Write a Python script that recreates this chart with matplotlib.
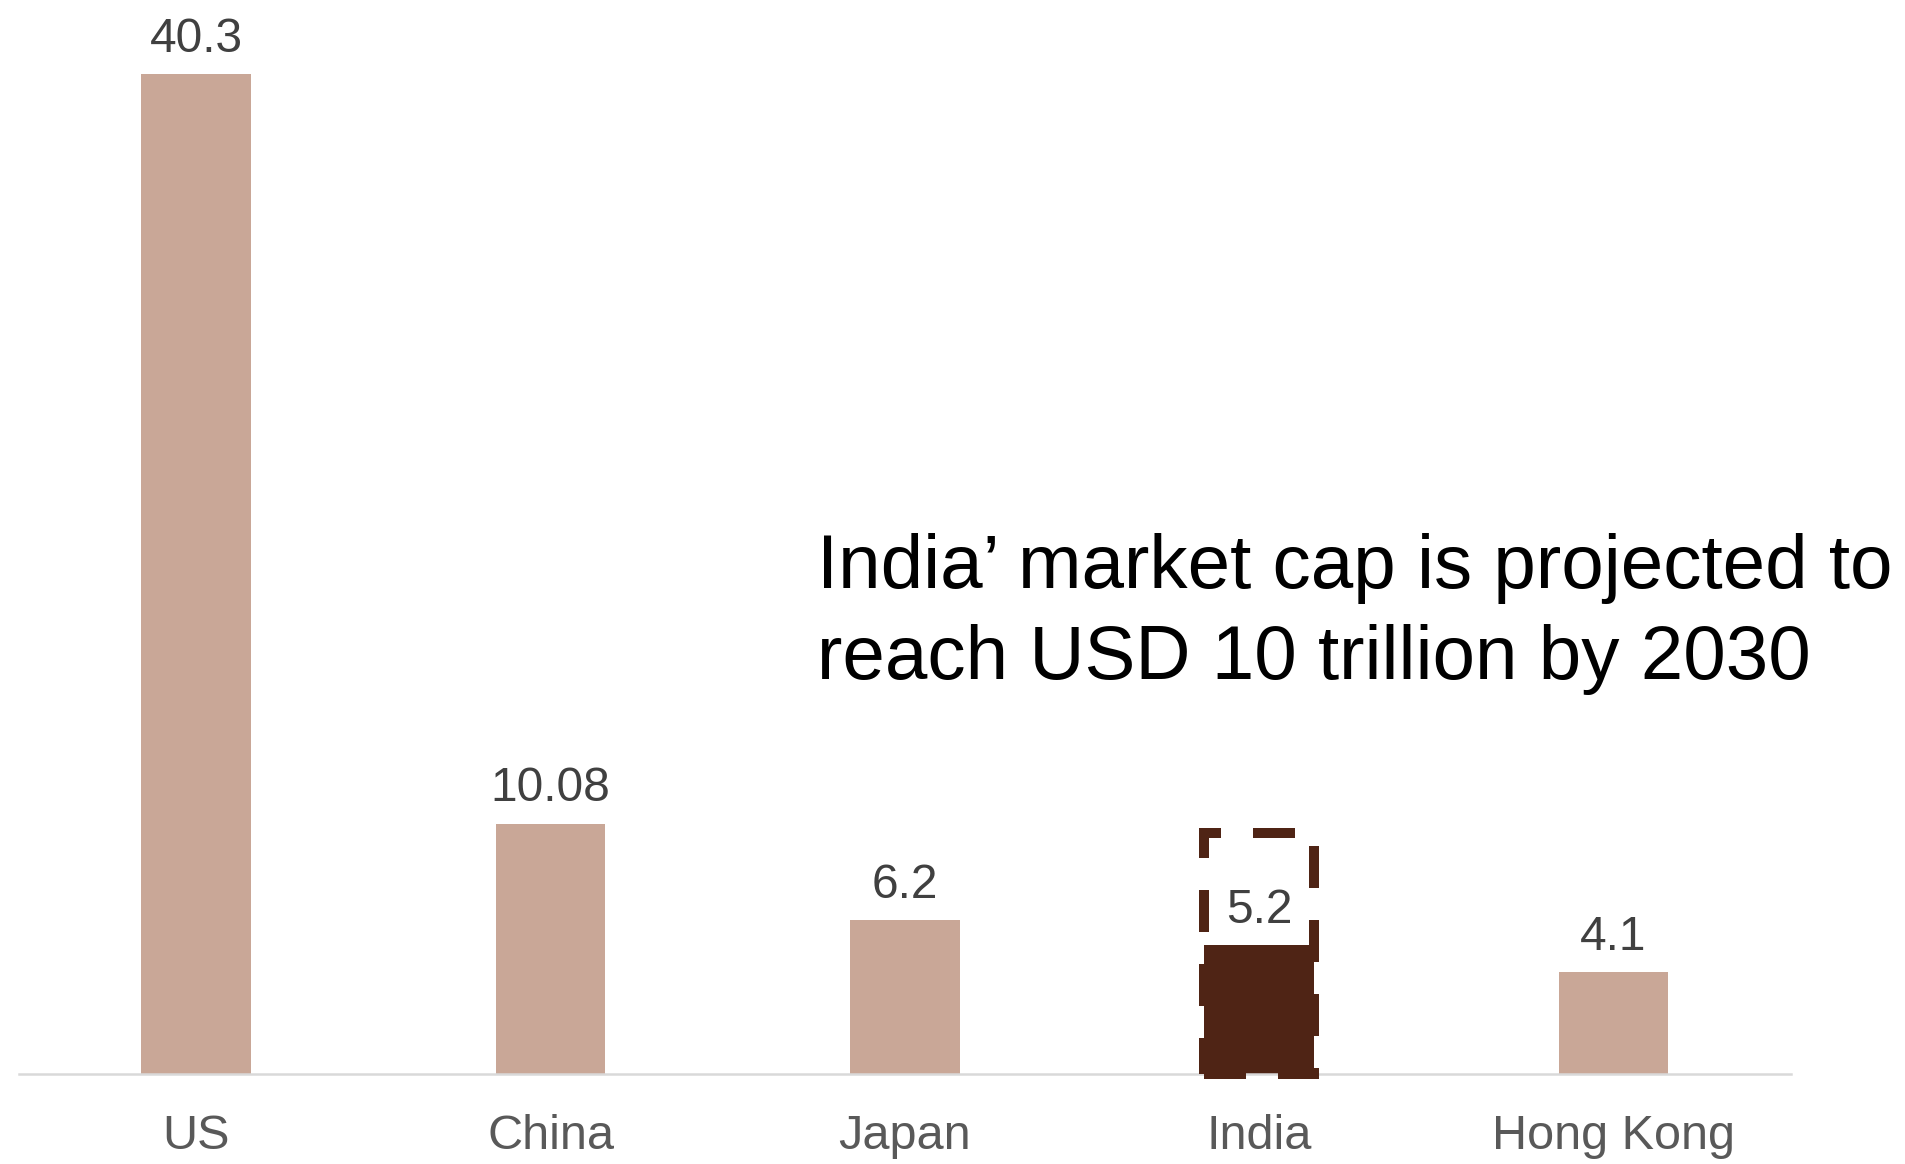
import matplotlib.pyplot as plt

countries = ["US", "China", "Japan", "India", "Hong Kong"]
marketCap = [40.3, 10.08, 6.2, 5.2, 4.1]
valueLabels = ["40.3", "10.08", "6.2", "5.2", "4.1"]
highlight = "India"
indiaProjected = 9.7
note = "India\u2019 market cap is projected to\nreach USD 10 trillion by 2030"

lightColor = "#c9a797"
darkColor = "#4f2415"

plt.rcParams['font.family'] = ['Liberation Sans', 'DejaVu Sans']

fig = plt.figure(figsize=(19.05, 11.64), dpi=100)
ax = fig.add_axes([0.01, 0.0773, 0.93, 0.8952])

colors = [darkColor if c == highlight else lightColor for c in countries]
x = list(range(len(countries)))
barWidth = 0.31
ax.bar(x, marketCap, width=barWidth, color=colors, zorder=2)

# projected box around India
idx = countries.index(highlight)
box = ax.bar([idx], [indiaProjected], width=barWidth, fill=False, edgecolor=darkColor,
             linewidth=7.2, linestyle=(0, (4.2, 3.2)), zorder=3)
for p in box:
  p.set_clip_on(False)

for i, v in enumerate(marketCap):
  ax.annotate(valueLabels[i], (i, v), xytext=(0, 9), textcoords="offset points",
              ha="center", va="bottom", fontsize=34.5, color="#404040")

ax.text(0.429, 0.542, note, transform=fig.transFigure, fontsize=55, color="black",
        ha="left", va="top", linespacing=1.36)

ax.set_xlim(-0.5, 4.5)
ax.set_ylim(0, 42)
ax.set_xticks(x)
ax.set_xticklabels(countries, fontsize=35, color="#595959")
ax.tick_params(axis="x", length=0, pad=29)
ax.set_yticks([])
for s in ["top", "right", "left"]:
  ax.spines[s].set_visible(False)
ax.spines["bottom"].set_color("#d9d9d9")
ax.spines["bottom"].set_linewidth(1.8)

plt.savefig("out.png")
plt.close()
